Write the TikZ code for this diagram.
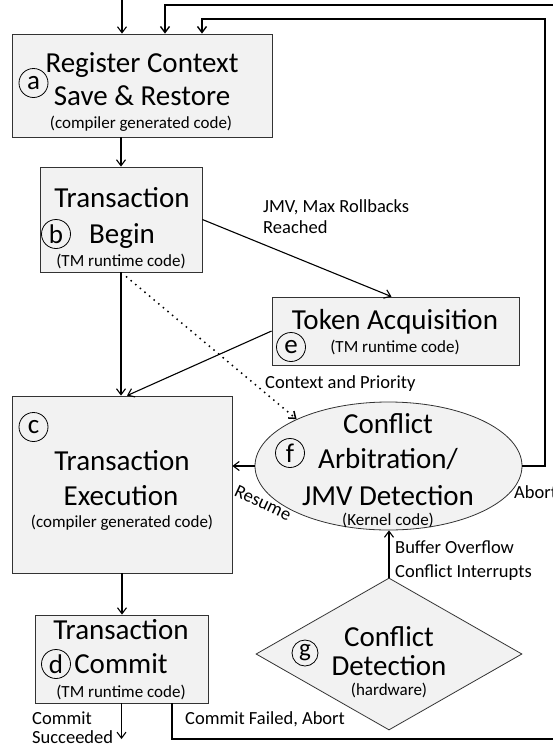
\documentclass[tikz,border=0pt]{standalone}
\usepackage{fontspec}
\setmainfont{Carlito}
\usetikzlibrary{arrows.meta,shapes.geometric}
\begin{document}
\begin{tikzpicture}[
  x=1pt, y=-1pt,
  blk/.style={draw=black!80, fill=black!5, line width=0.8pt, inner sep=0pt},
  big/.style={font=\fontsize{29}{34}\selectfont, inner sep=0pt, anchor=base},
  sub/.style={font=\fontsize{17}{20}\selectfont, inner sep=0pt, anchor=base},
  lbl/.style={font=\fontsize{18.5}{22}\selectfont, inner sep=0pt, anchor=base west},
  tag/.style={circle, draw=black, line width=0.8pt, minimum size=29pt, inner sep=0pt,
              font=\fontsize{27}{27}\selectfont},
  flow/.style={line width=1.1pt, -{Straight Barb[length=6pt,width=9pt]}},
  loop/.style={line width=1.4pt, -{Straight Barb[length=6pt,width=9pt]}},
]
\useasboundingbox (0,0) rectangle (553,748);

% boxes
\node[blk, minimum width=260pt, minimum height=103pt] (a) at (142,85.5) {};
\node[blk, minimum width=162pt, minimum height=105pt] (b) at (121,219.5) {};
\node[blk, minimum width=247pt, minimum height=68pt]  (e) at (395.5,331) {};
\node[blk, minimum width=220pt, minimum height=177pt] (c) at (122,484.5) {};
\node[blk, minimum width=173pt, minimum height=88pt]  (d) at (121.5,659) {};
\node[blk, ellipse, minimum width=267pt, minimum height=128pt] (f) at (388.5,466) {};
\node[blk, diamond, minimum width=266pt, minimum height=152pt] (g) at (389,654) {};

% box texts
\node[big] (a1) at (142,72)  {Register Context};
\node[big] (a2) at (142,105) {Save \& Restore};
\node[sub] (a3) at (141,128) {(compiler generated code)};
\node[tag] (ta) at (33.5,83) {a};

\node[big] (b1) at (122,207) {Transaction};
\node[big] (b2) at (122,243) {Begin};
\node[sub] (b3) at (121,266) {(TM runtime code)};
\node[tag] (tb) at (56,234) {b};

\node[big] (c1) at (122,470) {Transaction};
\node[big] (c2) at (121,505) {Execution};
\node[sub] (c3) at (122,527) {(compiler generated code)};
\node[tag] (tc) at (33.5,427) {c};

\node[big] (d1) at (121,639) {Transaction};
\node[big] (d2) at (121,673) {Commit};
\node[sub] (d3) at (121,697) {(TM runtime code)};
\node[tag] (td) at (56,664) {d};

\node[big] (e1) at (395,329) {Token Acquisition};
\node[sub] (e2) at (395,352) {(TM runtime code)};
\node[tag] (te) at (291,347) {e};

\node[big] (f1) at (388,433) {Conflict};
\node[big] (f2) at (388,468) {Arbitration/};
\node[big] (f3) at (388,505) {JMV Detection};
\node[sub] (f4) at (388,525) {(Kernel code)};
\node[tag] (tf) at (290,453) {f};

\node[big] (g1) at (389,646) {Conflict};
\node[big] (g2) at (389,675) {Detection};
\node[sub] (g3) at (389,695) {(hardware)};
\node[tag, minimum size=26pt, font=\fontsize{25}{25}\selectfont] (tg) at (305,653) {g};

% connector labels
\node[lbl] (l1) at (263,212) {JMV, Max Rollbacks};
\node[lbl] (l2) at (263,233) {Reached};
\node[lbl] (l3) at (265,388) {Context and Priority};
\node[lbl] (l4) at (395,553) {Buffer Overflow};
\node[lbl] (l5) at (395,577) {Conflict Interrupts};
\node[lbl] (l6) at (185,724) {Commit Failed, Abort};
\node[lbl] (l7) at (32,724)  {Commit};
\node[lbl] (l8) at (32,743)  {Succeeded};
\node[lbl] (l9) at (514,498) {Abort};
\node[font=\fontsize{18.5}{22}\selectfont, inner sep=0pt, rotate=-25] (l10) at (263,503) {Resume};

% coordinates for free ends and corners
\coordinate (in)   at (122,0);
\coordinate (out)  at (121.5,739);
\coordinate (cfb)  at (565,739);
\coordinate (cft)  at (565,5);
\coordinate (abc)  at (545,19);

% main flow
\draw[flow] (in) -- (in |- a.north);
\draw[flow] (a.south -| b.north) -- (b.north);
\draw[flow] (b.south) -- (b.south |- c.north);
\draw[flow] (c.south) -- (c.south |- d.north);
\draw[flow] (d.south) -- (out);
\draw[flow] (b.east) -- ([xshift=-4pt]e.north);
\draw[flow] (e.west) -- ([xshift=5pt]c.north);
\draw[flow, line width=1.5pt, dash pattern=on 1.5pt off 4.5pt] ([xshift=5pt,yshift=-4pt]b.south) -- (f.153);
\draw[flow] (f.west) -- (f.west -| c.east);
\draw[flow] (g.north) -- (g.north |- f.south);

% loops back to the register context
\draw[loop] (f.east) -| (abc) -| ([xshift=60pt]a.north);
\draw[loop] ([xshift=50.5pt]d.south) |- (cfb) -- (cft) -| ([xshift=23pt]a.north);
\end{tikzpicture}
\end{document}
